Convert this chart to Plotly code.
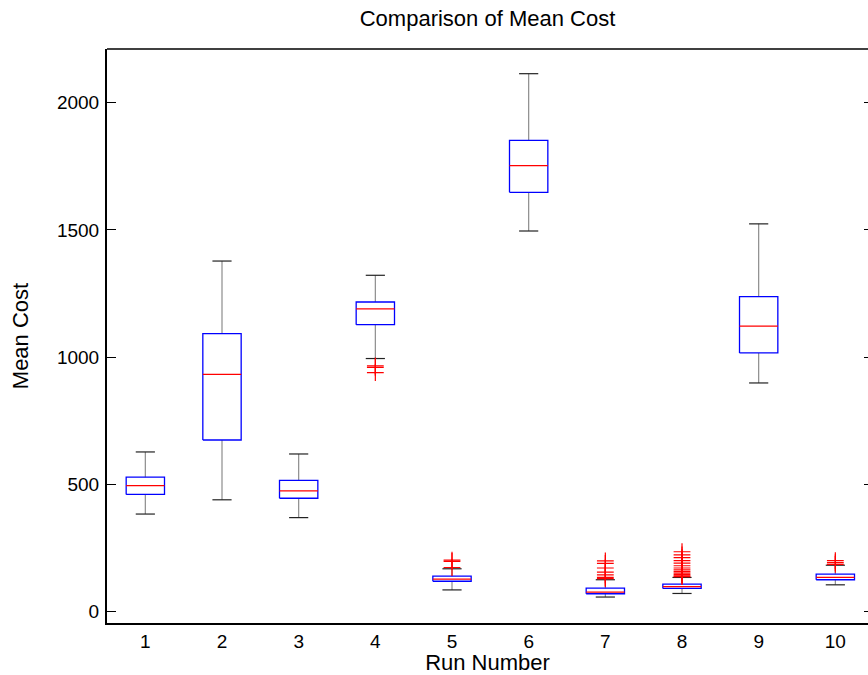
import plotly.graph_objects as go

# ---- data ----
runs = [1, 2, 3, 4, 5, 6, 7, 8, 9, 10]
q1 = [461, 675, 446, 1128, 120, 1648, 71, 92, 1017, 126]
median = [496, 933, 475, 1190, 128, 1753, 77, 99, 1122, 135]
q3 = [529, 1093, 516, 1217, 140, 1852, 93, 109, 1238, 148]
whisker_lo = [384, 440, 370, 995, 86, 1496, 58, 72, 899, 106]
whisker_hi = [628, 1378, 620, 1322, 169, 2114, 126, 135, 1524, 183]
outliers = {
    4: [966, 960, 940],
    5: [203, 198, 174],
    7: [200, 190, 172, 156, 145, 135, 130],
    8: [236, 224, 213, 201, 191, 181, 172, 165, 158, 152, 146, 141, 138],
    10: [201, 193, 186],
}
ytick_vals = [0, 500, 1000, 1500, 2000]

BOX_HALF = 0.25
CAP_HALF = 0.125

# ---- build geometry from the data ----
bx, by = [], []
mx, my = [], []
wx, wy = [], []
cx, cy = [], []
for r, a, m, b, lo, hi in zip(runs, q1, median, q3, whisker_lo, whisker_hi):
    bx += [r - BOX_HALF, r + BOX_HALF, r + BOX_HALF, r - BOX_HALF, r - BOX_HALF, None]
    by += [a, a, b, b, a, None]
    mx += [r - BOX_HALF, r + BOX_HALF, None]
    my += [m, m, None]
    wx += [r, r, None, r, r, None]
    wy += [b, hi, None, a, lo, None]
    cx += [r - CAP_HALF, r + CAP_HALF, None, r - CAP_HALF, r + CAP_HALF, None]
    cy += [hi, hi, None, lo, lo, None]

ox, oy = [], []
for r, vals in outliers.items():
    ox += [r] * len(vals)
    oy += vals

fig = go.Figure()
fig.add_trace(go.Scatter(x=wx, y=wy, mode="lines", line=dict(color="#8c8c8c", width=1.2),
                         hoverinfo="skip", showlegend=False))
fig.add_trace(go.Scatter(x=cx, y=cy, mode="lines", line=dict(color="#222222", width=1.2),
                         hoverinfo="skip", showlegend=False))
fig.add_trace(go.Scatter(x=bx, y=by, mode="lines", line=dict(color="#0000ff", width=1.3),
                         hoverinfo="skip", showlegend=False))
fig.add_trace(go.Scatter(x=mx, y=my, mode="lines", line=dict(color="#ff0000", width=1.3),
                         hoverinfo="skip", showlegend=False))
fig.add_trace(go.Scatter(x=ox, y=oy, mode="markers",
                         marker=dict(symbol="cross-thin", size=12, color="#ff0000",
                                     line=dict(color="#ff0000", width=1.2)),
                         showlegend=False))
# invisible trace to activate the right-hand axis
fig.add_trace(go.Scatter(x=[None], y=[None], yaxis="y2", showlegend=False, hoverinfo="skip"))

FONT = "Liberation Sans, Arial, Helvetica, sans-serif"
yrange = [-44, 2211]

fig.update_layout(
    width=868, height=675,
    margin=dict(l=107, r=0, t=49, b=52),
    plot_bgcolor="white", paper_bgcolor="white",
    font=dict(family=FONT, color="black", size=19),
    title=dict(text="Comparison of Mean Cost", x=0.5, xref="paper", xanchor="center",
               y=1 - 18 / 675, yanchor="middle", yref="container",
               font=dict(size=22, family=FONT, color="black")),
    xaxis=dict(range=[0.5, 10.426], tickvals=runs, ticktext=[str(r) for r in runs],
               ticks="", showline=True, linecolor="black", linewidth=2,
               showgrid=False, zeroline=False, mirror=False,
               title=dict(text="Run Number", font=dict(size=22), standoff=0),
               tickfont=dict(size=19)),
    yaxis=dict(range=yrange, tickvals=ytick_vals, ticks="inside", ticklen=9,
               tickcolor="black", tickwidth=1, showline=True, linecolor="black", linewidth=2,
               showgrid=False, zeroline=False,
               title=dict(text="Mean Cost", font=dict(size=22), standoff=22),
               tickfont=dict(size=19), ticklabelstandoff=2),
    yaxis2=dict(range=yrange, overlaying="y", side="right", tickvals=ytick_vals,
                ticks="inside", ticklen=4, tickcolor="black", tickwidth=1,
                showticklabels=False, showline=False, showgrid=False, zeroline=False),
    shapes=[dict(type="line", xref="paper", yref="paper", x0=0, x1=1, y0=1, y1=1,
                 line=dict(color="black", width=1.5))],
)

fig.write_html("out.html")
